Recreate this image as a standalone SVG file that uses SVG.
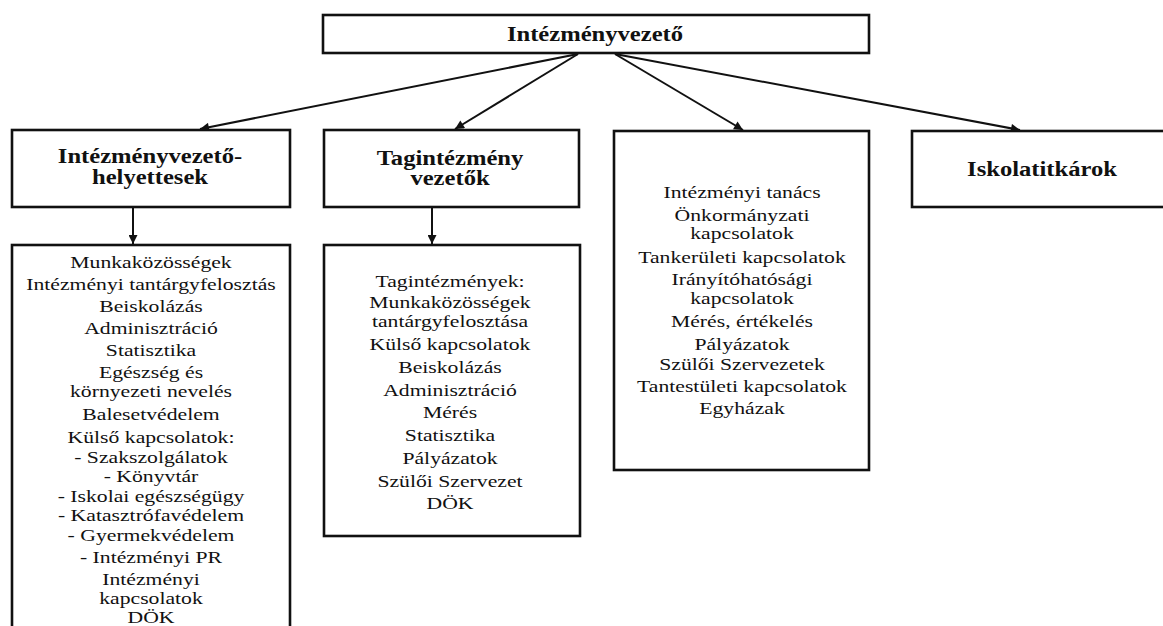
<svg xmlns="http://www.w3.org/2000/svg" width="1163" height="626" viewBox="0 0 1163 626">
<style>
.box{fill:#fff;stroke:#111;stroke-width:2.6}
.h{font-family:"Liberation Serif","Times New Roman",serif;font-weight:bold;font-size:20px;fill:#111;text-anchor:middle}
.t{font-family:"Liberation Serif","Times New Roman",serif;font-size:17.5px;fill:#111;text-anchor:middle}
.c{stroke:#111;stroke-width:2;fill:none;marker-end:url(#ah)}
</style>
<defs>
<marker id="ah" viewBox="0 0 10 10" refX="10" refY="5" markerWidth="10" markerHeight="9" markerUnits="userSpaceOnUse" orient="auto">
<path d="M0,0 L10,5 L0,10 z" fill="#111"/>
</marker>
</defs>
<rect width="1163" height="626" fill="#fff"/>
<g id="connectors">
<line class="c" x1="578" y1="54" x2="200" y2="129"/>
<line class="c" x1="578" y1="54" x2="455" y2="129"/>
<line class="c" x1="615" y1="54" x2="743" y2="130"/>
<line class="c" x1="615" y1="54" x2="1020" y2="130"/>
<line class="c" x1="133" y1="208" x2="133" y2="244"/>
<line class="c" x1="432" y1="208" x2="432" y2="244"/>
</g>
<g id="n-vezeto">
<rect class="box" x="323" y="15" width="546" height="38"/>
<g transform="translate(595 0) scale(1.23 1)"><text class="h" x="0" y="41">Intézményvezető</text></g>
</g>
<g id="n-helyettesek">
<rect class="box" x="12" y="130" width="278" height="77"/>
<g transform="translate(150 0) scale(1.23 1)">
<text class="h" x="0" y="163">Intézményvezető-</text>
<text class="h" x="0" y="184">helyettesek</text>
</g>
</g>
<g id="n-helyettesek-feladatok">
<rect class="box" x="12" y="245" width="278" height="400"/>
<g transform="translate(151 0) scale(1.24 1)">
<text class="t" x="0" y="268">Munkaközösségek</text>
<text class="t" x="0" y="290">Intézményi tantárgyfelosztás</text>
<text class="t" x="0" y="312">Beiskolázás</text>
<text class="t" x="0" y="334">Adminisztráció</text>
<text class="t" x="0" y="356">Statisztika</text>
<text class="t" x="0" y="378">Egészség és</text>
<text class="t" x="0" y="397">környezeti nevelés</text>
<text class="t" x="0" y="420">Balesetvédelem</text>
<text class="t" x="0" y="443">Külső kapcsolatok:</text>
<text class="t" x="0" y="463">- Szakszolgálatok</text>
<text class="t" x="0" y="482">- Könyvtár</text>
<text class="t" x="0" y="502">- Iskolai egészségügy</text>
<text class="t" x="0" y="521">- Katasztrófavédelem</text>
<text class="t" x="0" y="541">- Gyermekvédelem</text>
<text class="t" x="0" y="563">- Intézményi PR</text>
<text class="t" x="0" y="585">Intézményi</text>
<text class="t" x="0" y="604">kapcsolatok</text>
<text class="t" x="0" y="623">DÖK</text>
</g>
</g>
<g id="n-tagintezmeny">
<rect class="box" x="324" y="130" width="255" height="77"/>
<g transform="translate(450 0) scale(1.23 1)">
<text class="h" x="0" y="165">Tagintézmény</text>
<text class="h" x="0" y="185">vezetők</text>
</g>
</g>
<g id="n-tagintezmeny-feladatok">
<rect class="box" x="324" y="245" width="256" height="291"/>
<g transform="translate(450 0) scale(1.24 1)">
<text class="t" x="0" y="287">Tagintézmények:</text>
<text class="t" x="0" y="308">Munkaközösségek</text>
<text class="t" x="0" y="327">tantárgyfelosztása</text>
<text class="t" x="0" y="350">Külső kapcsolatok</text>
<text class="t" x="0" y="373">Beiskolázás</text>
<text class="t" x="0" y="396">Adminisztráció</text>
<text class="t" x="0" y="418">Mérés</text>
<text class="t" x="0" y="441">Statisztika</text>
<text class="t" x="0" y="464">Pályázatok</text>
<text class="t" x="0" y="487">Szülői Szervezet</text>
<text class="t" x="0" y="509">DÖK</text>
</g>
</g>
<g id="n-kapcsolatok">
<rect class="box" x="614" y="131" width="255" height="339"/>
<g transform="translate(742 0) scale(1.24 1)">
<text class="t" x="0" y="198">Intézményi tanács</text>
<text class="t" x="0" y="221">Önkormányzati</text>
<text class="t" x="0" y="239">kapcsolatok</text>
<text class="t" x="0" y="263">Tankerületi kapcsolatok</text>
<text class="t" x="0" y="285">Irányítóhatósági</text>
<text class="t" x="0" y="304">kapcsolatok</text>
<text class="t" x="0" y="327">Mérés, értékelés</text>
<text class="t" x="0" y="350">Pályázatok</text>
<text class="t" x="0" y="370">Szülői Szervezetek</text>
<text class="t" x="0" y="392">Tantestületi kapcsolatok</text>
<text class="t" x="0" y="414">Egyházak</text>
</g>
</g>
<g id="n-iskolatitkarok">
<rect class="box" x="912" y="131" width="270" height="76"/>
<g transform="translate(1042 0) scale(1.23 1)">
<text class="h" x="0" y="176">Iskolatitkárok</text>
</g>
</g>
</svg>
